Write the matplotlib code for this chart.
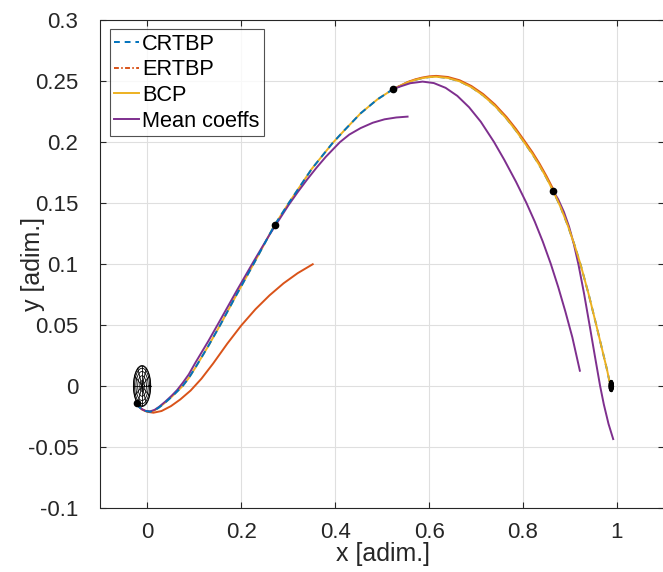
import numpy as np
import matplotlib
matplotlib.use('Agg')
import matplotlib.pyplot as plt
from matplotlib.patches import Ellipse

plt.rcParams['font.family'] = ['Liberation Sans', 'DejaVu Sans']

# matlab default colours
c_crtbp = '#0072BD'
c_ertbp = '#D95319'
c_bcp = '#EDB120'
c_mean = '#7E2F8E'

# CRTBP, split at the 3rd patch point
crtbp_x1 = [-0.023, -0.018, -0.012, -0.005, 0.0057, 0.015, 0.025, 0.038, 0.052, 0.063, 0.075, 0.088,
            0.102, 0.130, 0.155, 0.190, 0.226, 0.271, 0.301, 0.350, 0.394, 0.420, 0.454, 0.490, 0.524]
crtbp_y1 = [-0.0143, -0.0170, -0.0191, -0.0205, -0.0211, -0.0200, -0.0175, -0.0135, -0.0087, -0.0046, 0.0, 0.0065,
            0.015, 0.033, 0.050, 0.075, 0.100, 0.132, 0.150, 0.178, 0.199, 0.2098, 0.2235, 0.2350, 0.2435]
crtbp_x2 = [0.524, 0.555, 0.570, 0.585, 0.600, 0.615, 0.640, 0.665, 0.690, 0.715, 0.740, 0.765, 0.785,
            0.802, 0.820, 0.835, 0.850, 0.864, 0.880, 0.895, 0.910, 0.923, 0.940, 0.955, 0.968, 0.979, 0.987]
crtbp_y2 = [0.2435, 0.249, 0.2509, 0.2523, 0.2532, 0.2535, 0.2525, 0.2497, 0.2449, 0.2382, 0.2296, 0.2191, 0.2093,
            0.200, 0.1901, 0.1808, 0.1705, 0.160, 0.1466, 0.1319, 0.1151, 0.0989, 0.0748, 0.0515, 0.0307, 0.0131, -0.0015]

# BCP (same path)
bcp_x = crtbp_x1 + crtbp_x2[1:]
bcp_y = crtbp_y1 + crtbp_y2[1:]

# ERTBP arcs
ertbp_x1 = [-0.023, -0.012, 0.0, 0.0128, 0.030, 0.050, 0.070, 0.092, 0.115, 0.140,
            0.170, 0.200, 0.230, 0.260, 0.290, 0.320, 0.352]
ertbp_y1 = [-0.0143, -0.019, -0.0212, -0.0219, -0.0205, -0.0165, -0.011, -0.0037, 0.006, 0.0185,
            0.0347, 0.0497, 0.0629, 0.0743, 0.0842, 0.0925, 0.0998]
ertbp_x3 = [0.524, 0.555, 0.570, 0.585, 0.600, 0.615, 0.640, 0.665, 0.690, 0.715, 0.740, 0.765,
            0.785, 0.802, 0.820, 0.835, 0.850, 0.866]
ertbp_y3 = [0.2435, 0.2493, 0.2513, 0.2528, 0.2538, 0.2542, 0.2533, 0.2506, 0.2459, 0.2393, 0.2308, 0.2204,
            0.2107, 0.2015, 0.1916, 0.1823, 0.1720, 0.1600]

# mean coefficients arcs
mean_x1 = [-0.023, -0.018, -0.012, -0.005, 0.0057, 0.015, 0.025, 0.038, 0.052, 0.063, 0.075, 0.088, 0.102,
           0.130, 0.155, 0.190, 0.226, 0.260, 0.300, 0.320, 0.340, 0.360, 0.380, 0.410, 0.430, 0.454,
           0.480, 0.505, 0.530, 0.554]
mean_y1 = [-0.0143, -0.0170, -0.0190, -0.0203, -0.0208, -0.0196, -0.0170, -0.0128, -0.0078, -0.0034, 0.0025, 0.0095, 0.019,
           0.037, 0.054, 0.078, 0.102, 0.124, 0.148, 0.1589, 0.1692, 0.1789, 0.1879, 0.1999, 0.2061, 0.2114,
           0.2158, 0.2186, 0.2201, 0.2208]
mean_x3 = [0.524, 0.540, 0.560, 0.586, 0.610, 0.635, 0.660, 0.685, 0.710, 0.738, 0.760, 0.785,
           0.807, 0.825, 0.842, 0.859, 0.875, 0.890, 0.905, 0.921]
mean_y3 = [0.2435, 0.2457, 0.2482, 0.2495, 0.2483, 0.2444, 0.2378, 0.2285, 0.2166, 0.2001, 0.1854, 0.1674,
           0.1502, 0.1347, 0.1184, 0.1002, 0.081, 0.0612, 0.0399, 0.0125]
mean_x4 = [0.864, 0.875, 0.887, 0.898, 0.908, 0.918, 0.930, 0.943, 0.953, 0.964, 0.972, 0.982, 0.992]
mean_y4 = [0.160, 0.1529, 0.1427, 0.1306, 0.1166, 0.0996, 0.0756, 0.047, 0.0245, 0.0003, -0.015, -0.031, -0.0435]

# patch points
dots_x = [-0.023, 0.271, 0.524, 0.864]
dots_y = [-0.0143, 0.132, 0.2435, 0.160]

# earth and moon (x, y, radius)
earth = (-0.0115, 0.0, 0.0168)
moon = (0.98785, 0.0, 0.0045)

xticks = [0, 0.2, 0.4, 0.6, 0.8, 1]
xlabels = ['0', '0.2', '0.4', '0.6', '0.8', '1']
yticks = [-0.1, -0.05, 0, 0.05, 0.1, 0.15, 0.2, 0.25, 0.3]
ylabels = ['-0.1', '-0.05', '0', '0.05', '0.1', '0.15', '0.2', '0.25', '0.3']


def sphere(ax, body, face, n=12, lw=0.5, sx=1.0):
    # wireframe sphere seen from above
    xc, yc, r = body
    ax.add_patch(Ellipse((xc, yc), 2*r*sx, 2*r, facecolor=face, edgecolor='none', zorder=5))
    t = np.linspace(0, 2*np.pi, 90)
    for lat in np.arange(n//2) * np.pi / n:
        rr = r*np.cos(lat)
        ax.plot(xc + sx*rr*np.cos(t), yc + rr*np.sin(t), 'k', lw=lw, zorder=6)
    for lon in np.arange(n) * 2*np.pi / n:
        ax.plot([xc, xc + sx*r*np.cos(lon)], [yc, yc + r*np.sin(lon)], 'k', lw=lw, zorder=6)


fig = plt.figure(figsize=(6.63, 5.72), dpi=100)
ax = fig.add_axes([100.5/663, 64/572, 563.4/663, 488/572])

lw = 1.4
ax.plot(bcp_x, bcp_y, color=c_bcp, lw=lw, zorder=2.2)
ax.plot(crtbp_x1, crtbp_y1, color=c_crtbp, lw=lw, ls='--', dashes=(3.5, 2.5), zorder=3)
ax.plot(crtbp_x2, crtbp_y2, color=c_crtbp, lw=lw, ls='--', dashes=(3.5, 2.5), zorder=1.5)
ax.plot(ertbp_x1, ertbp_y1, color=c_ertbp, lw=lw, zorder=2.5)
ax.plot(ertbp_x3, ertbp_y3, color=c_ertbp, lw=lw, zorder=1.8)
ax.plot(mean_x1, mean_y1, color=c_mean, lw=lw, zorder=2.6)
ax.plot(mean_x3, mean_y3, color=c_mean, lw=lw, zorder=2.6)
ax.plot(mean_x4, mean_y4, color=c_mean, lw=lw, zorder=2.1)
ax.plot(dots_x, dots_y, 'o', color='k', ms=4.5, zorder=7)

sphere(ax, earth, 'white', sx=1.1, lw=0.6)
sphere(ax, moon, 'black', lw=0.9)

# legend handles
h_crtbp, = ax.plot([], [], color=c_crtbp, lw=lw, ls='--', dashes=(3, 2.5))
h_ertbp, = ax.plot([], [], color=c_ertbp, lw=lw, ls='-.', dashes=(2.5, 1.2, 0.8, 1.2))
h_bcp, = ax.plot([], [], color=c_bcp, lw=lw)
h_mean, = ax.plot([], [], color=c_mean, lw=lw)
leg = ax.legend([h_crtbp, h_ertbp, h_bcp, h_mean], ['CRTBP', 'ERTBP', 'BCP', 'Mean coeffs'],
                loc='upper left', fontsize=15.7, frameon=True, fancybox=False,
                handlelength=1.15, handletextpad=0.15, borderpad=0.2, labelspacing=0.22,
                borderaxespad=0.42)
leg.get_frame().set_edgecolor('#262626')
leg.get_frame().set_linewidth(0.8)
leg.set_zorder(10)

ax.set_xlim(-0.1, 1.1)
ax.set_ylim(-0.1, 0.3)
ax.set_xticks(xticks)
ax.set_xticklabels(xlabels)
ax.set_yticks(yticks)
ax.set_yticklabels(ylabels)
ax.grid(True, color='#dfdfdf', lw=0.8)
ax.set_axisbelow(True)
ax.tick_params(direction='in', top=True, right=True, length=4, width=0.8,
               colors='#262626', labelsize=16)
ax.tick_params(axis='x', pad=10)
ax.tick_params(axis='y', pad=16)
for s in ax.spines.values():
    s.set_color('#262626')
    s.set_linewidth(0.8)

ax.set_xlabel('x [adim.]', fontsize=18, color='#262626')
ax.set_ylabel('y [adim.]', fontsize=18, color='#262626')
ax.xaxis.set_label_coords(0.501, -0.07)
ax.yaxis.set_label_coords(-0.099, 0.5)

fig.savefig('out.png', dpi=100)
